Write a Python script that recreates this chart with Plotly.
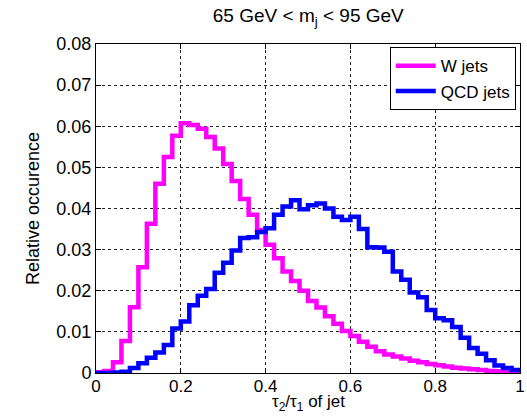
import numpy as np
import plotly.graph_objects as go

# Histogram binning of tau2/tau1 (50 bins on [0, 1])
bin_edges = np.linspace(0.0, 1.0, 51)

# Relative occurrence per bin
w_jets = [0.0002, 0.0005, 0.0026, 0.0078, 0.0160, 0.0257, 0.0363, 0.0460, 0.0525, 0.0577,
          0.0607, 0.0603, 0.0594, 0.0574, 0.0546, 0.0508, 0.0467, 0.0423, 0.0385, 0.0348,
          0.0312, 0.0279, 0.0247, 0.0224, 0.0200, 0.0175, 0.0159, 0.0138, 0.0120, 0.0102,
          0.0090, 0.0076, 0.0064, 0.0053, 0.0045, 0.0040, 0.0035, 0.0030, 0.0026, 0.0022,
          0.0019, 0.0016, 0.0013, 0.0011, 0.0009, 0.0007, 0.0005, 0.0004, 0.0003, 0.0002]

qcd_jets = [0.0000, 0.0000, 0.0001, 0.0003, 0.0012, 0.0024, 0.0037, 0.0050, 0.0068, 0.0108,
            0.0125, 0.0165, 0.0188, 0.0204, 0.0244, 0.0268, 0.0298, 0.0328, 0.0330, 0.0343,
            0.0352, 0.0385, 0.0405, 0.0420, 0.0398, 0.0408, 0.0412, 0.0400, 0.0380, 0.0372,
            0.0380, 0.0350, 0.0306, 0.0305, 0.0295, 0.0247, 0.0227, 0.0196, 0.0184, 0.0153,
            0.0133, 0.0128, 0.0112, 0.0086, 0.0061, 0.0047, 0.0031, 0.0018, 0.0012, 0.0007]

x_ticks = [0, 0.2, 0.4, 0.6, 0.8, 1]
x_tick_text = ["0", "0.2", "0.4", "0.6", "0.8", "1"]
y_ticks = [0, 0.01, 0.02, 0.03, 0.04, 0.05, 0.06, 0.07, 0.08]
y_tick_text = ["0", "0.01", "0.02", "0.03", "0.04", "0.05", "0.06", "0.07", "0.08"]


def stairs(values):
    """Return x/y for an 'hv' staircase covering every bin."""
    xs = list(bin_edges)
    ys = list(values) + [values[-1]]
    return xs, ys


FONT = "Liberation Sans, Arial, sans-serif"

fig = go.Figure()
for name, vals, color in [("W jets", w_jets, "#ff00ff"), ("QCD jets", qcd_jets, "#0000ff")]:
    xs, ys = stairs(vals)
    fig.add_trace(go.Scatter(
        x=xs, y=ys, mode="lines", name=name,
        line=dict(color=color, width=4.5, shape="hv"),
    ))

axis_common = dict(
    showline=True, linecolor="black", linewidth=1, mirror="allticks",
    ticks="inside", ticklen=5, tickcolor="black",
    showgrid=True, gridcolor="#222222", gridwidth=1, griddash="dot",
    zeroline=False, automargin=False,
)

fig.update_xaxes(range=[0, 1], tickvals=x_ticks, ticktext=x_tick_text,
                 ticklabelstandoff=-2,
                 tickfont=dict(family=FONT, size=17, color="black"), **axis_common)
fig.update_yaxes(
    range=[0, 0.08], tickvals=y_ticks, ticktext=y_tick_text,
    tickfont=dict(family=FONT, size=18, color="black"),
    title=dict(text="Relative occurence",
               font=dict(family=FONT, size=18, color="black"), standoff=12),
    **axis_common,
)

# x-axis label, set just under the tick labels
fig.add_annotation(
    text="τ<sub>2</sub>/τ<sub>1</sub> of jet", xref="paper", yref="paper",
    x=0.5, y=-0.127, xanchor="center", yanchor="bottom", showarrow=False,
    borderpad=0, font=dict(family=FONT, size=17, color="black"),
)

fig.update_layout(
    width=527, height=416,
    margin=dict(l=96, r=7, t=44, b=43),
    paper_bgcolor="white", plot_bgcolor="white",
    title=dict(text="65 GeV &lt; m<sub>j</sub> &lt; 95 GeV", x=0.585, xanchor="center",
               y=0.98, yanchor="top",
               font=dict(family=FONT, size=19, color="black")),
    legend=dict(x=0.99, y=0.99, xanchor="right", yanchor="top",
                bgcolor="white", bordercolor="black", borderwidth=1,
                font=dict(family=FONT, size=17, color="black"),
                tracegroupgap=0, itemwidth=40),
    showlegend=True,
)

fig.write_html("out.html")
